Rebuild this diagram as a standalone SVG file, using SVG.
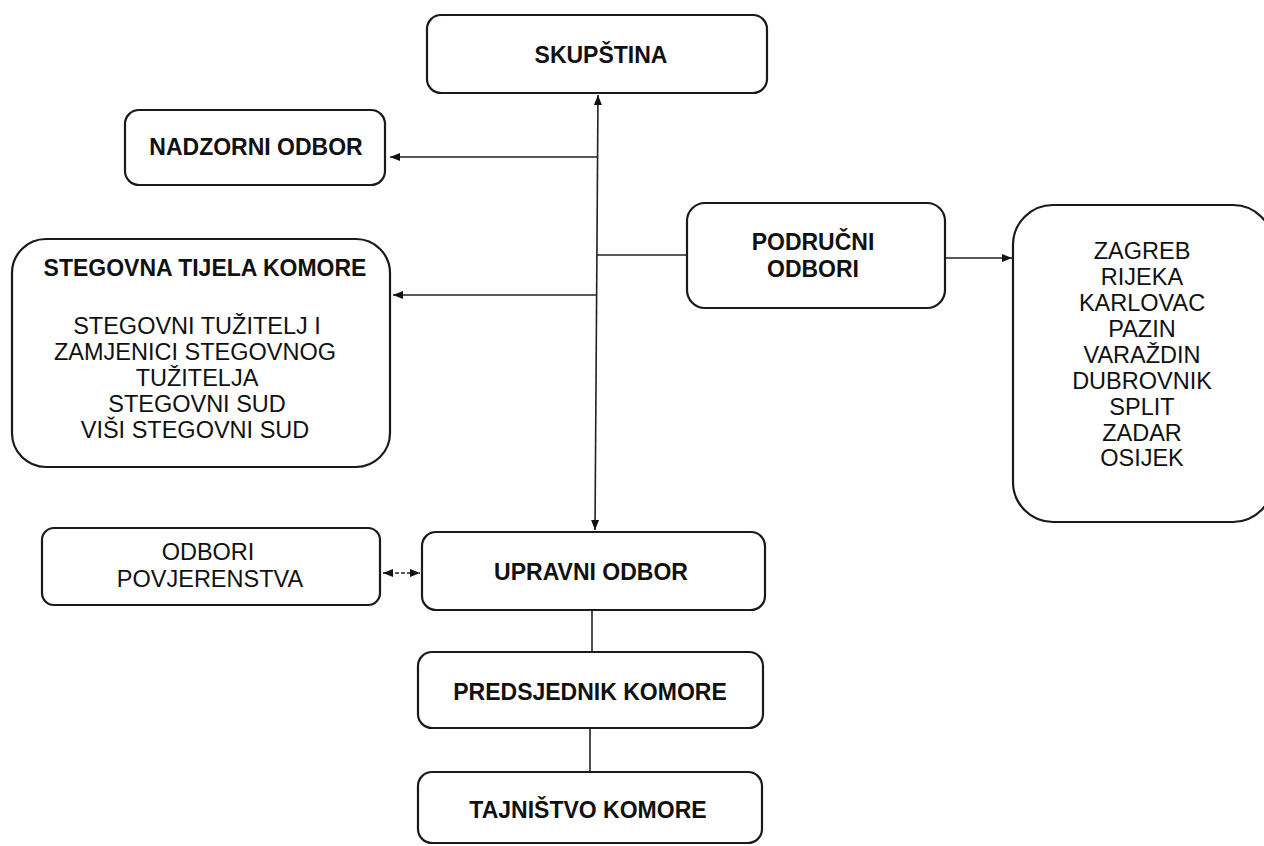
<svg xmlns="http://www.w3.org/2000/svg" width="1264" height="846" viewBox="0 0 1264 846">
<style>
.box{fill:#fff;stroke:#1a1a1a;stroke-width:2.2}
.b{font-family:"Liberation Sans",Arial,sans-serif;font-weight:bold;font-size:23px;fill:#111;text-anchor:middle}
.r{font-family:"Liberation Sans",Arial,sans-serif;font-size:23.5px;fill:#111;text-anchor:middle}
.c{fill:none;stroke:#222;stroke-width:1.6}
</style>
<defs>
<marker id="ah" markerUnits="userSpaceOnUse" markerWidth="10" markerHeight="10" viewBox="0 0 10 10" refX="10" refY="5" orient="auto-start-reverse">
<path d="M0,1 L10,5 L0,9 Z" fill="#111"/>
</marker>
</defs>
<rect width="1264" height="846" fill="#fff"/>
<g id="connectors">
<line class="c" x1="595" y1="530" x2="598" y2="95" marker-end="url(#ah)" marker-start="url(#ah)"/>
<line class="c" x1="598" y1="157" x2="390" y2="157" marker-end="url(#ah)"/>
<line class="c" x1="597" y1="295" x2="393" y2="295" marker-end="url(#ah)"/>
<line class="c" x1="597" y1="255" x2="687" y2="255"/>
<line class="c" x1="945" y1="258" x2="1012" y2="258" marker-end="url(#ah)"/>
<line class="c" x1="383" y1="573" x2="420" y2="573" stroke-dasharray="4 2" marker-start="url(#ah)" marker-end="url(#ah)"/>
<line class="c" x1="592" y1="610" x2="592" y2="652"/>
<line class="c" x1="590" y1="728" x2="590" y2="772"/>
</g>
<g id="skupstina">
<rect class="box" x="427" y="15" width="340" height="78" rx="14"/>
<text class="b" x="601" y="63">SKUPŠTINA</text>
</g>
<g id="nadzorni-odbor">
<rect class="box" x="125" y="110" width="260" height="75" rx="14"/>
<text class="b" x="256" y="155">NADZORNI ODBOR</text>
</g>
<g id="stegovna-tijela">
<rect class="box" x="12" y="239" width="378" height="228" rx="34"/>
<text class="b" x="205" y="276">STEGOVNA TIJELA KOMORE</text>
<text class="r" x="197" y="334">STEGOVNI TUŽITELJ I</text>
<text class="r" x="195" y="360">ZAMJENICI STEGOVNOG</text>
<text class="r" x="197" y="386">TUŽITELJA</text>
<text class="r" x="197" y="412">STEGOVNI SUD</text>
<text class="r" x="195" y="438">VIŠI STEGOVNI SUD</text>
</g>
<g id="podrucni-odbori">
<rect class="box" x="687" y="203" width="258" height="105" rx="18"/>
<text class="b" x="813" y="250">PODRUČNI</text>
<text class="b" x="813" y="277">ODBORI</text>
</g>
<g id="gradovi">
<rect class="box" x="1013" y="205" width="260" height="317" rx="40"/>
<text class="r" x="1142" y="259">ZAGREB</text>
<text class="r" x="1142" y="285">RIJEKA</text>
<text class="r" x="1142" y="311">KARLOVAC</text>
<text class="r" x="1142" y="337">PAZIN</text>
<text class="r" x="1142" y="363">VARAŽDIN</text>
<text class="r" x="1142" y="389">DUBROVNIK</text>
<text class="r" x="1142" y="415">SPLIT</text>
<text class="r" x="1142" y="441">ZADAR</text>
<text class="r" x="1142" y="466">OSIJEK</text>
</g>
<g id="odbori-povjerenstva">
<rect class="box" x="42" y="528" width="338" height="77" rx="12"/>
<text class="r" x="208" y="560">ODBORI</text>
<text class="r" x="210" y="587">POVJERENSTVA</text>
</g>
<g id="upravni-odbor">
<rect class="box" x="422" y="532" width="343" height="78" rx="14"/>
<text class="b" x="591" y="580">UPRAVNI ODBOR</text>
</g>
<g id="predsjednik-komore">
<rect class="box" x="418" y="652" width="345" height="76" rx="14"/>
<text class="b" x="590" y="700">PREDSJEDNIK KOMORE</text>
</g>
<g id="tajnistvo-komore">
<rect class="box" x="418" y="772" width="344" height="71" rx="14"/>
<text class="b" x="588" y="818">TAJNIŠTVO KOMORE</text>
</g>
</svg>
